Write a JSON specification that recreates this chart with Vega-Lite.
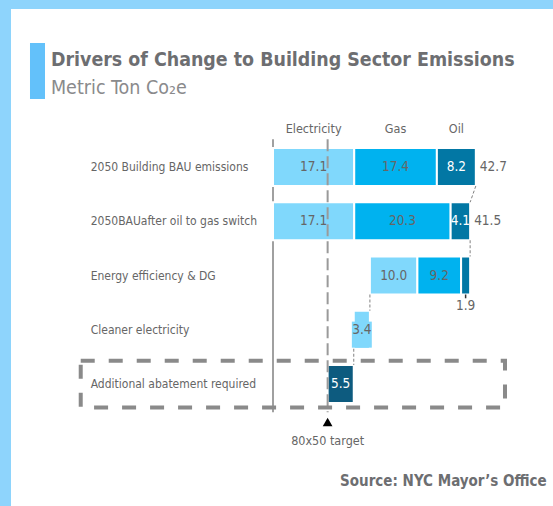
{
  "$schema": "https://vega.github.io/schema/vega-lite/v6.json",
  "width": 553,
  "height": 506,
  "autosize": {"type": "fit", "contains": "padding"},
  "padding": {"left": 11, "top": 9, "right": 0, "bottom": 0},
  "background": "#8ed4fc",
  "config": {"view": {"fill": "white", "stroke": null}, "font": "DejaVu Sans Condensed, Roboto, sans-serif"},
  "datasets": {
    "bars": [
      {"step": 1, "category": "2050 Building BAU emissions", "fuel": "Electricity", "start": 0, "end": 17.1, "value": 17.1},
      {"step": 1, "category": "2050 Building BAU emissions", "fuel": "Gas", "start": 17.1, "end": 34.5, "value": 17.4},
      {"step": 1, "category": "2050 Building BAU emissions", "fuel": "Oil", "start": 34.5, "end": 42.7, "value": 8.2},
      {"step": 2, "category": "2050BAUafter oil to gas switch", "fuel": "Electricity", "start": 0, "end": 17.1, "value": 17.1},
      {"step": 2, "category": "2050BAUafter oil to gas switch", "fuel": "Gas", "start": 17.1, "end": 37.4, "value": 20.3},
      {"step": 2, "category": "2050BAUafter oil to gas switch", "fuel": "Oil", "start": 37.4, "end": 41.5, "value": 4.1},
      {"step": 3, "category": "Energy efficiency & DG", "fuel": "Electricity", "start": 20.4, "end": 30.4, "value": 10.0},
      {"step": 3, "category": "Energy efficiency & DG", "fuel": "Gas", "start": 30.4, "end": 39.6, "value": 9.2},
      {"step": 3, "category": "Energy efficiency & DG", "fuel": "Oil", "start": 39.6, "end": 41.5, "value": 1.9},
      {"step": 4, "category": "Cleaner electricity", "fuel": "Electricity", "start": 17.0, "end": 20.4, "value": 3.4},
      {"step": 5, "category": "Additional abatement required", "fuel": "Additional", "start": 11.5, "end": 17.0, "value": 5.5}
    ],
    "connectors": [
      {"fromStep": 1, "toStep": 2, "fromValue": 42.7, "toValue": 41.5},
      {"fromStep": 2, "toStep": 3, "fromValue": 41.5, "toValue": 41.5},
      {"fromStep": 3, "toStep": 4, "fromValue": 20.4, "toValue": 20.4},
      {"fromStep": 4, "toStep": 5, "fromValue": 17.0, "toValue": 17.0}
    ]
  },
  "layer": [
    {
      "data": {"values": [{}]},
      "mark": {"type": "rect", "color": "#63c1fa"},
      "encoding": {
        "x": {"datum": -51.16, "type": "quantitative", "scale": {"domain": [-55.158, 58.947], "nice": false, "zero": false}, "axis": null},
        "x2": {"datum": -48.0},
        "y": {"datum": -1.2857, "type": "quantitative", "scale": {"domain": [-1.9124, 7.2488], "nice": false, "zero": false, "reverse": true}, "axis": null},
        "y2": {"datum": -0.2535}
      }
    },
    {
      "data": {"values": [{}]},
      "mark": {"type": "text", "text": "Drivers of Change to Building Sector Emissions", "align": "left", "baseline": "alphabetic", "fontSize": 19.4, "fontWeight": "bold", "color": "#6d6e71"},
      "encoding": {
        "x": {"datum": -46.74, "type": "quantitative"},
        "y": {"datum": -0.862, "type": "quantitative"}
      }
    },
    {
      "data": {"values": [{}]},
      "mark": {"type": "text", "text": "Metric Ton Co₂e", "align": "left", "baseline": "alphabetic", "fontSize": 19.5, "color": "#8a8a8c"},
      "encoding": {
        "x": {"datum": -46.74, "type": "quantitative"},
        "y": {"datum": -0.34, "type": "quantitative"}
      }
    },
    {
      "data": {"name": "bars"},
      "transform": [{"filter": "datum.fuel === 'Electricity' || datum.fuel === 'Additional'"}],
      "mark": {"type": "text", "align": "left", "baseline": "middle", "fontSize": 12, "color": "#666666"},
      "encoding": {
        "x": {"datum": -38.38, "type": "quantitative"},
        "y": {"field": "step", "type": "quantitative"},
        "text": {"field": "category"}
      }
    },
    {
      "data": {"values": [{}]},
      "mark": {"type": "rule", "color": "#a0a0a0", "strokeWidth": 2},
      "encoding": {
        "x": {"datum": 0, "type": "quantitative"},
        "y": {"datum": 0.49, "type": "quantitative"},
        "y2": {"datum": 5.52}
      }
    },
    {
      "data": {"name": "bars"},
      "transform": [
        {"calculate": "datum.step - 0.35", "as": "top"},
        {"calculate": "datum.step + 0.35", "as": "bottom"}
      ],
      "mark": {"type": "rect", "stroke": "white", "strokeWidth": 2},
      "encoding": {
        "x": {"field": "start", "type": "quantitative"},
        "x2": {"field": "end"},
        "y": {"field": "top", "type": "quantitative"},
        "y2": {"field": "bottom"},
        "color": {"field": "fuel", "type": "nominal", "scale": {"domain": ["Electricity", "Gas", "Oil", "Additional"], "range": ["#80d8fc", "#00b2ef", "#0277a4", "#0d5b7f"]}, "legend": null}
      }
    },
    {
      "data": {"name": "bars"},
      "transform": [
        {"filter": "datum.step === 4"},
        {"calculate": "(datum.start + datum.end) / 2 - 2.1", "as": "bx"},
        {"calculate": "(datum.start + datum.end) / 2 + 2.1", "as": "bx2"},
        {"calculate": "datum.step - 0.15", "as": "by"},
        {"calculate": "datum.step + 0.33", "as": "by2"}
      ],
      "mark": {"type": "rect", "color": "#80d8fc"},
      "encoding": {
        "x": {"field": "bx", "type": "quantitative"},
        "x2": {"field": "bx2"},
        "y": {"field": "by", "type": "quantitative"},
        "y2": {"field": "by2"}
      }
    },
    {
      "data": {"values": [{}]},
      "mark": {"type": "rule", "color": "#9a9a9a", "strokeWidth": 2, "strokeDash": [12, 5]},
      "encoding": {
        "x": {"datum": 11.5, "type": "quantitative"},
        "y": {"datum": 0.49, "type": "quantitative"},
        "y2": {"datum": 5.52}
      }
    },
    {
      "data": {"name": "connectors"},
      "transform": [
        {"calculate": "datum.fromStep + 0.35", "as": "y1"},
        {"calculate": "datum.toStep - 0.35", "as": "y2"}
      ],
      "mark": {"type": "rule", "color": "#808080", "strokeWidth": 1, "strokeDash": [3, 2]},
      "encoding": {
        "x": {"field": "fromValue", "type": "quantitative"},
        "x2": {"field": "toValue"},
        "y": {"field": "y1", "type": "quantitative"},
        "y2": {"field": "y2"}
      }
    },
    {
      "data": {"values": [{}]},
      "mark": {"type": "rect", "fill": null, "fillOpacity": 0, "stroke": "#8a8a8a", "strokeWidth": 4, "strokeDash": [14, 14]},
      "encoding": {
        "x": {"datum": -40.48, "type": "quantitative"},
        "x2": {"datum": 48.84},
        "y": {"datum": 4.57, "type": "quantitative"},
        "y2": {"datum": 5.433}
      }
    },
    {
      "data": {"name": "bars"},
      "transform": [
        {"filter": "!(datum.step === 3 && datum.fuel === 'Oil')"},
        {"calculate": "(datum.start + datum.end) / 2", "as": "mid"}
      ],
      "mark": {"type": "text", "align": "center", "baseline": "middle", "fontSize": 13.5},
      "encoding": {
        "x": {"field": "mid", "type": "quantitative"},
        "y": {"field": "step", "type": "quantitative"},
        "text": {"field": "value", "type": "quantitative", "format": ".1f"},
        "color": {"condition": {"test": "datum.fuel === 'Oil' || datum.fuel === 'Additional'", "value": "white"}, "value": "#666666"}
      }
    },
    {
      "data": {"name": "bars"},
      "transform": [{"filter": "datum.fuel === 'Oil' && datum.step <= 2"}],
      "mark": {"type": "text", "align": "left", "baseline": "middle", "fontSize": 13.5, "dx": 4, "color": "#666666"},
      "encoding": {
        "x": {"field": "end", "type": "quantitative"},
        "y": {"field": "step", "type": "quantitative"},
        "text": {"field": "end", "type": "quantitative", "format": ".1f"}
      }
    },
    {
      "data": {"name": "bars"},
      "transform": [
        {"filter": "datum.fuel === 'Oil' && datum.step === 3"},
        {"calculate": "(datum.start + datum.end) / 2", "as": "mid"},
        {"calculate": "datum.step + 0.35", "as": "bottom"},
        {"calculate": "datum.step + 0.42", "as": "tick"}
      ],
      "layer": [
        {
          "mark": {"type": "rule", "color": "#333333", "strokeWidth": 1.5},
          "encoding": {
            "x": {"field": "mid", "type": "quantitative"},
            "y": {"field": "bottom", "type": "quantitative"},
            "y2": {"field": "tick"}
          }
        },
        {
          "mark": {"type": "text", "align": "center", "baseline": "top", "fontSize": 13.5, "dy": 5, "color": "#666666"},
          "encoding": {
            "x": {"field": "mid", "type": "quantitative"},
            "y": {"field": "bottom", "type": "quantitative"},
            "text": {"field": "value", "type": "quantitative", "format": ".1f"}
          }
        }
      ]
    },
    {
      "data": {"name": "bars"},
      "transform": [
        {"filter": "datum.step === 1"},
        {"calculate": "(datum.start + datum.end) / 2", "as": "mid"}
      ],
      "mark": {"type": "text", "align": "center", "baseline": "alphabetic", "fontSize": 12.5, "color": "#666666"},
      "encoding": {
        "x": {"field": "mid", "type": "quantitative"},
        "y": {"datum": 0.3733, "type": "quantitative"},
        "text": {"field": "fuel"}
      }
    },
    {
      "data": {"values": [{}]},
      "mark": {"type": "point", "shape": "triangle-up", "filled": true, "color": "black", "size": 95, "opacity": 1},
      "encoding": {
        "x": {"datum": 11.5, "type": "quantitative"},
        "y": {"datum": 5.7, "type": "quantitative"}
      }
    },
    {
      "data": {"values": [{}]},
      "mark": {"type": "text", "text": "80x50 target", "align": "center", "baseline": "alphabetic", "fontSize": 12.5, "color": "#666666"},
      "encoding": {
        "x": {"datum": 11.5, "type": "quantitative"},
        "y": {"datum": 6.124, "type": "quantitative"}
      }
    },
    {
      "data": {"values": [{}]},
      "mark": {"type": "text", "text": "Source: NYC Mayor’s Office", "align": "right", "baseline": "alphabetic", "fontSize": 15, "fontWeight": "bold", "color": "#6d6e71"},
      "encoding": {
        "x": {"datum": 57.62, "type": "quantitative"},
        "y": {"datum": 6.889, "type": "quantitative"}
      }
    }
  ]
}
